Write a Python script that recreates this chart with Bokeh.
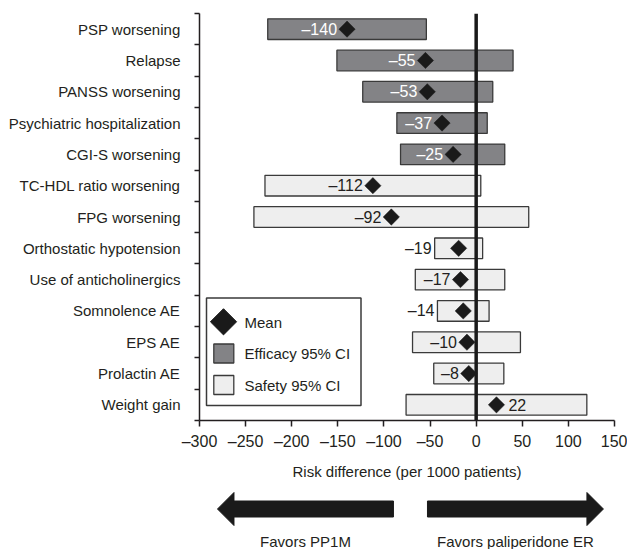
import math
from bokeh.plotting import figure
from bokeh.layouts import column
from bokeh.models import Span, FixedTicker, Range1d, ColumnDataSource
from bokeh.core.properties import value
from bokeh.embed import file_html
from bokeh.resources import INLINE

# ---------------- data ----------------
categories = ["PSP worsening", "Relapse", "PANSS worsening",
              "Psychiatric hospitalization", "CGI-S worsening",
              "TC-HDL ratio worsening", "FPG worsening",
              "Orthostatic hypotension", "Use of anticholinergics",
              "Somnolence AE", "EPS AE", "Prolactin AE", "Weight gain"]
group = ["Efficacy"] * 5 + ["Safety"] * 8
mean = [-140, -55, -53, -37, -25, -112, -92, -19, -17, -14, -10, -8, 22]
ci_low = [-226, -151, -123, -86, -82, -229, -241, -45, -66, -42, -69, -46, -76]
ci_high = [-54, 40, 18, 12, 31, 5, 57, 7, 31, 14, 48, 30, 120]
x_ticks = [-300, -250, -200, -150, -100, -50, 0, 50, 100, 150]
x_title = "Risk difference (per 1000 patients)"
legend_labels = ["Mean", "Efficacy 95% CI", "Safety 95% CI"]
arrow_texts = ["Favors PP1M", "Favors paliperidone ER"]
arrow_spans = [(-280.5, -89.7), (-52.8, 138.0)]   # left arrow (tip, tail), right arrow (tail, tip)

# ---------------- style / layout ----------------
FONT = "Liberation Sans"
TXT = "#231f20"
EFF_FILL = "#838386"
SAF_FILL = "#eeeeee"
EDGE = "#3a3a3a"
XMIN, XMAX = -300, 150
FRAME_W, FRAME_H = 415, 407
B_LEFT, B_RIGHT, B_TOP, B_BOTTOM = 199, 13, 13, 67
PX = FRAME_W / (XMAX - XMIN)            # px per data unit (x)
N = len(categories)
PY = FRAME_H / N                        # px per data unit (y)
FX0, FY0 = B_LEFT, B_TOP                # frame top-left in page px


def dx(px):
    return XMIN + (px - FX0) / PX


def dy(py):
    return N - (py - FY0) / PY


centers = [N - i - 0.5 for i in range(N)]

p = figure(width=B_LEFT + FRAME_W + B_RIGHT, height=B_TOP + FRAME_H + B_BOTTOM,
           frame_width=FRAME_W, frame_height=FRAME_H,
           x_range=Range1d(XMIN, XMAX), y_range=Range1d(0, N),
           min_border_left=B_LEFT, min_border_right=B_RIGHT,
           min_border_top=B_TOP, min_border_bottom=B_BOTTOM,
           output_backend="svg", toolbar_location=None)
p.outline_line_color = None
p.grid.visible = False
p.background_fill_color = "white"
p.border_fill_color = "white"

# bars
for g, fill in (("Efficacy", EFF_FILL), ("Safety", SAF_FILL)):
    idx = [i for i in range(N) if group[i] == g]
    src = ColumnDataSource(dict(y=[centers[i] for i in idx],
                                left=[ci_low[i] for i in idx],
                                right=[ci_high[i] for i in idx]))
    p.hbar(y="y", left="left", right="right", height=0.66, source=src,
           fill_color=fill, line_color=EDGE, line_width=1.3)

# zero line
p.add_layout(Span(location=0, dimension="height", line_color="#1a1a1a", line_width=3.5))

# mean diamonds
p.scatter(x=mean, y=centers, marker="square", angle=math.pi / 4, size=11.5,
          fill_color="#1a1a1a", line_color="#1a1a1a", line_width=0.5)

# mean labels
LABEL_GAP, EDGE_GAP, CHAR_W = 10, 3, 8.9
lx, loff, lalign, lcol, ltxt = [], [], [], [], []
for i in range(N):
    m, lo = mean[i], ci_low[i]
    t = ("\u2013" + str(abs(m))) if m < 0 else str(m)
    ltxt.append(t)
    if m >= 0:
        lx.append(m); loff.append(12); lalign.append("left"); lcol.append(TXT)
        continue
    w = len(t) * CHAR_W
    inside = (m - lo) * PX - LABEL_GAP >= w + 2
    if inside:
        lx.append(m); loff.append(-LABEL_GAP)
    else:
        lx.append(lo); loff.append(-EDGE_GAP)
    lalign.append("right")
    lcol.append("white" if (inside and group[i] == "Efficacy") else TXT)
lsrc = ColumnDataSource(dict(x=lx, y=centers, off=loff, align=lalign, col=lcol, t=ltxt))
p.text(x="x", y="y", text="t", x_offset="off", text_align="align", text_color="col",
       text_baseline="middle", text_font=value(FONT), text_font_size="16px", source=lsrc)

# legend (drawn manually to match the reference's large diamond)
p.quad(left=[dx(206)], right=[dx(360.5)], top=[dy(297.5)], bottom=[dy(405)],
       fill_color="white", line_color=EDGE, line_width=1.5)
p.scatter(x=[dx(223)], y=[dy(321.3)], marker="square", angle=math.pi / 4, size=18.5,
          fill_color="#1a1a1a", line_color="#1a1a1a")
p.quad(left=[dx(213.3)] * 2, right=[dx(233.3)] * 2,
       top=[dy(343.5), dy(375)], bottom=[dy(362.5), dy(394)],
       fill_color=[EFF_FILL, SAF_FILL], line_color=EDGE, line_width=1.3)
p.text(x=[dx(244)] * 3, y=[dy(321.5), dy(353), dy(384.5)], text=legend_labels,
       text_baseline="middle", text_align="left", text_color=TXT,
       text_font=value(FONT), text_font_size="15px")

# axes
xa = p.xaxis[0]
xa.ticker = FixedTicker(ticks=x_ticks)
xa.major_label_overrides = {t: (("\u2013" + str(abs(t))) if t < 0 else str(t)) for t in x_ticks}
xa.major_tick_out = 6
xa.major_tick_in = 0
xa.minor_tick_line_color = None
xa.major_label_standoff = 6
xa.axis_label = x_title
xa.axis_label_standoff = 10
xa.axis_label_text_font = FONT
xa.axis_label_text_font_size = "15px"
xa.axis_label_text_font_style = "normal"
xa.axis_label_text_color = TXT
xa.major_label_text_font = FONT
xa.major_label_text_font_size = "16px"
xa.major_label_text_color = TXT
xa.axis_line_color = TXT
xa.axis_line_width = 1.5
xa.major_tick_line_color = TXT
xa.major_tick_line_width = 1.5

ya = p.yaxis[0]
ya.ticker = FixedTicker(ticks=centers, minor_ticks=list(range(N + 1)))
ya.major_label_overrides = {c: categories[i] for i, c in enumerate(centers)}
ya.major_tick_out = 0
ya.major_tick_in = 0
ya.minor_tick_out = 5
ya.minor_tick_in = 0
ya.minor_tick_line_color = TXT
ya.minor_tick_line_width = 1.5
ya.major_label_standoff = 14
ya.major_label_text_font = FONT
ya.major_label_text_font_size = "15px"
ya.major_label_text_color = TXT
ya.axis_line_color = TXT
ya.axis_line_width = 1.5

# ---------------- arrows figure ----------------
A_H = 62
q = figure(width=B_LEFT + FRAME_W + B_RIGHT, height=A_H,
           frame_width=FRAME_W, frame_height=A_H,
           x_range=p.x_range, y_range=Range1d(A_H, 0),
           min_border_left=B_LEFT, min_border_right=B_RIGHT,
           min_border_top=0, min_border_bottom=0,
           x_axis_type=None, y_axis_type=None,
           output_backend="svg", toolbar_location=None)
q.outline_line_color = None
q.grid.visible = False

AY, SHAFT, HEAD, HEAD_L = 21.5, 8, 16.5, 16.5
(l_tip, l_tail), (r_tail, r_tip) = arrow_spans
lb = l_tip + HEAD_L / PX
rb = r_tip - HEAD_L / PX
q.patch(x=[l_tip, lb, lb, l_tail, l_tail, lb, lb],
        y=[AY, AY - HEAD, AY - SHAFT, AY - SHAFT, AY + SHAFT, AY + SHAFT, AY + HEAD],
        fill_color="#1a1a1a", line_color="#1a1a1a")
q.patch(x=[r_tip, rb, rb, r_tail, r_tail, rb, rb],
        y=[AY, AY - HEAD, AY - SHAFT, AY - SHAFT, AY + SHAFT, AY + SHAFT, AY + HEAD],
        fill_color="#1a1a1a", line_color="#1a1a1a")
q.text(x=[(l_tip + l_tail) / 2, (r_tail + r_tip) / 2], y=[53.7, 53.7], text=arrow_texts,
       text_align="center", text_baseline="middle", text_color=TXT,
       text_font=value(FONT), text_font_size="15px")

layout = column(p, q, spacing=0)
open("out.html", "w").write(file_html(layout, INLINE))
